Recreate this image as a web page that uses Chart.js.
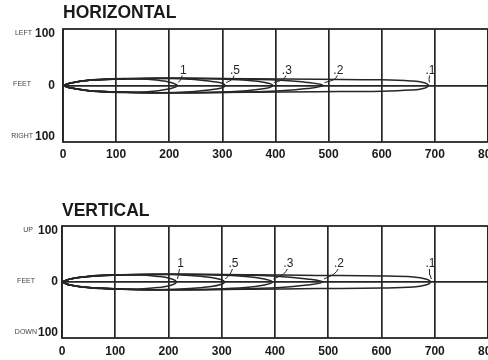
<!DOCTYPE html>
<html>
<head>
<meta charset="utf-8">
<script src="https://cdn.jsdelivr.net/npm/chart.js@4"></script>
<style>
  html, body { margin: 0; padding: 0; background: #fff; overflow: hidden; }
  body { width: 488px; height: 360px; position: relative; }
  canvas { position: absolute; left: 0; }
</style>
</head>
<body>
<canvas id="hChart" width="488" height="180" style="top:0px"></canvas>
<canvas id="vChart" width="488" height="163" style="top:197px"></canvas>
<script>
// ---------- data ----------
const xTickValues = [0, 100, 200, 300, 400, 500, 600, 700, 800];
const yTickValues = [-100, 0, 100];
const lobeLabels = ['1', '.5', '.3', '.2', '.1'];

// Horizontal panel lobes (range in feet, lateral offset in feet)
const hLobe1X = [0, 15, 45, 90, 140, 180, 203, 215, 203, 180, 140, 90, 45, 15, 0];
const hLobe1Y = [0, 5, 10, 13, 13, 10, 6, 0, -6, -10, -13, -13, -10, -5, 0];
const hLobe2X = [0, 15, 50, 110, 180, 240, 280, 298, 305, 298, 280, 240, 180, 110, 50, 15, 0];
const hLobe2Y = [0, 5, 10, 13, 14, 12, 8, 5, 0, -5, -8, -12, -14, -13, -10, -5, 0];
const hLobe3X = [0, 15, 50, 120, 200, 280, 345, 380, 395, 380, 345, 280, 200, 120, 50, 15, 0];
const hLobe3Y = [0, 5, 10, 13, 14, 13, 10, 6, 0, -6, -10, -13, -14, -13, -10, -5, 0];
const hLobe4X = [0, 15, 50, 120, 220, 320, 410, 460, 490, 460, 410, 320, 220, 120, 50, 15, 0];
const hLobe4Y = [0, 5, 10, 13, 14, 13, 10, 6, 0, -6, -10, -13, -14, -13, -10, -5, 0];
const hLobe5X = [0, 15, 50, 120, 220, 350, 480, 600, 655, 678, 688, 678, 655, 600, 480, 350, 220, 120, 50, 15, 0];
const hLobe5Y = [0, 5, 10, 13, 14, 13, 12, 11, 9, 6, 0, -6, -9, -11, -12, -13, -14, -13, -10, -5, 0];

// Vertical panel lobes (range in feet, vertical offset in feet)
const vLobe1X = [0, 15, 45, 90, 140, 180, 203, 215, 203, 180, 140, 90, 45, 15, 0];
const vLobe1Y = [0, 6, 11, 14, 14, 11, 7, 0, -7, -11, -14, -14, -11, -6, 0];
const vLobe2X = [0, 15, 50, 110, 180, 240, 280, 298, 305, 298, 280, 240, 180, 110, 50, 15, 0];
const vLobe2Y = [0, 6, 11, 14, 15, 13, 9, 5, 0, -5, -9, -13, -15, -14, -11, -6, 0];
const vLobe3X = [0, 15, 50, 120, 200, 280, 345, 380, 395, 380, 345, 280, 200, 120, 50, 15, 0];
const vLobe3Y = [0, 6, 11, 14, 15, 14, 11, 6, 0, -6, -11, -14, -15, -14, -11, -6, 0];
const vLobe4X = [0, 15, 50, 120, 220, 320, 410, 460, 490, 460, 410, 320, 220, 120, 50, 15, 0];
const vLobe4Y = [0, 6, 11, 14, 15, 14, 11, 6, 0, -6, -11, -14, -15, -14, -11, -6, 0];
const vLobe5X = [0, 15, 50, 120, 220, 350, 480, 600, 660, 683, 692, 683, 660, 600, 480, 350, 220, 120, 50, 15, 0];
const vLobe5Y = [0, 6, 11, 14, 15, 14, 13, 12, 10, 6, 0, -6, -10, -12, -13, -14, -15, -14, -11, -6, 0];

// ---------- helpers ----------
function pts(xs, ys) { return xs.map((x, i) => ({ x: x, y: ys[i] })); }
const INK = '#262626';

function makeChart(id, cfg) {
  const lobes = cfg.lobes.map(l => ({
    data: pts(l[0], l[1]),
    showLine: true,
    pointRadius: 0,
    borderColor: INK,
    borderWidth: 1.5,
    tension: 0.4,
    fill: false
  }));

  const decor = {
    id: 'decor',
    afterDraw(chart) {
      const c = chart.ctx, a = chart.chartArea;
      const xs = chart.scales.x, ys = chart.scales.y;
      c.save();
      // frame
      c.strokeStyle = INK; c.lineWidth = 1.8;
      c.strokeRect(a.left, a.top, a.right - a.left, a.bottom - a.top);
      // title
      c.fillStyle = '#1a1a1a';
      c.font = 'bold 17.5px "Liberation Sans", Arial, sans-serif';
      c.textAlign = 'left'; c.textBaseline = 'alphabetic';
      c.fillText(cfg.title, a.left, cfg.titleBaseline);
      // side words
      c.font = '7px "Liberation Sans", Arial, sans-serif';
      c.fillStyle = '#444';
      c.textAlign = 'right'; c.textBaseline = 'middle';
      cfg.sideWords.forEach((w, i) => {
        c.fillText(w, a.left - cfg.sideGap[i], ys.getPixelForValue(yTickValues[2 - i]) - 1);
      });
      // lobe labels with leaders
      c.font = '12px "Liberation Sans", Arial, sans-serif';
      c.fillStyle = INK; c.strokeStyle = INK; c.lineWidth = 1;
      c.textAlign = 'center';
      lobeLabels.forEach((t, i) => {
        const lx = cfg.lobes[i][0];
        const tipX = xs.getPixelForValue(Math.max.apply(null, lx));
        const tipY = ys.getPixelForValue(0);
        const tx = tipX + cfg.labelDx[i], ty = tipY + cfg.labelDy;
        c.fillText(t, tx, ty);
        c.beginPath();
        c.moveTo(tx - 1, ty + 5);
        c.quadraticCurveTo(tx - 2, ty + 10, tipX + 1, tipY - 3);
        c.stroke();
      });
      c.restore();
    }
  };

  return new Chart(document.getElementById(id), {
    type: 'scatter',
    data: { datasets: lobes },
    options: {
      responsive: false,
      animation: false,
      devicePixelRatio: 1,
      layout: { padding: { top: 29, left: 0, right: 0, bottom: 0 } },
      plugins: { legend: { display: false }, tooltip: { enabled: false }, title: { display: false } },
      scales: {
        x: {
          type: 'linear', min: 0, max: 800,
          afterBuildTicks: s => { s.ticks = xTickValues.map(v => ({ value: v })); },
          afterFit: s => { s.height = cfg.xAxisHeight; s.paddingLeft = 0; s.paddingRight = 0; },
          grid: { color: INK, lineWidth: 1.7, drawTicks: false },
          border: { display: false },
          ticks: {
            padding: cfg.xTickPad, color: '#1a1a1a', maxRotation: 0, autoSkip: false,
            font: { family: '"Liberation Sans", Arial, sans-serif', size: 12, weight: 'bold' }
          }
        },
        y: {
          type: 'linear', min: -110, max: 110,
          afterBuildTicks: s => { s.ticks = yTickValues.map(v => ({ value: v })); },
          afterFit: s => { s.width = cfg.yAxisWidth; s.paddingTop = 0; s.paddingBottom = 0; },
          grid: {
            color: c => (c.tick && c.tick.value === 0) ? INK : 'rgba(0,0,0,0)',
            lineWidth: 1.7, drawTicks: false
          },
          border: { display: false },
          ticks: {
            padding: cfg.yTickPad, color: '#1a1a1a',
            callback: v => String(Math.abs(v)),
            font: { family: '"Liberation Sans", Arial, sans-serif', size: 12, weight: 'bold' }
          }
        }
      }
    },
    plugins: [decor]
  });
}

makeChart('hChart', {
  title: 'HORIZONTAL', titleBaseline: 18,
  lobes: [[hLobe1X, hLobe1Y], [hLobe2X, hLobe2Y], [hLobe3X, hLobe3Y], [hLobe4X, hLobe4Y], [hLobe5X, hLobe5Y]],
  sideWords: ['LEFT', 'FEET', 'RIGHT'], sideGap: [31, 32, 30],
  labelDx: [6, 10, 14, 15, 2], labelDy: -15,
  xAxisHeight: 38, xTickPad: 5, yAxisWidth: 63, yTickPad: 8
});

makeChart('vChart', {
  title: 'VERTICAL', titleBaseline: 19,
  lobes: [[vLobe1X, vLobe1Y], [vLobe2X, vLobe2Y], [vLobe3X, vLobe3Y], [vLobe4X, vLobe4Y], [vLobe5X, vLobe5Y]],
  sideWords: ['UP', 'FEET', 'DOWN'], sideGap: [29, 27, 25],
  labelDx: [4, 9, 16, 16, 0], labelDy: -18,
  xAxisHeight: 22, xTickPad: 6, yAxisWidth: 62, yTickPad: 4
});
</script>
</body>
</html>
